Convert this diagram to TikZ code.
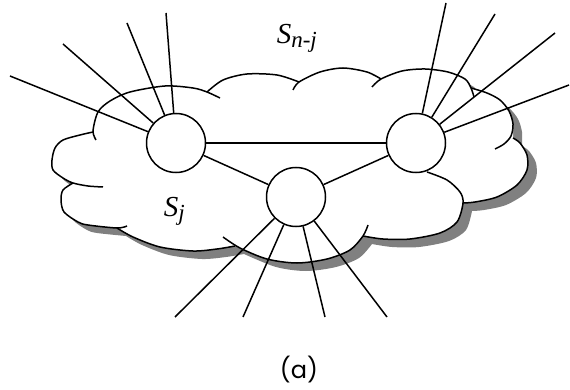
\documentclass[tikz,border=0pt]{standalone}
\usepackage{fontspec}
\setmainfont{Liberation Serif}
\newfontfamily\capfont{Poppins}
\newcommand{\idx}[1]{\raisebox{-4pt}{\fontsize{23}{23}\selectfont #1}}

\begin{document}
\begin{tikzpicture}[
    x=1pt, y=-1pt,
    line width=1.5pt,
    hub/.style={circle, draw, fill=white, minimum size=59pt, inner sep=0pt},
    setname/.style={font=\fontsize{29}{29}\selectfont\itshape, inner sep=0pt, anchor=base west},
    caption/.style={font=\capfont\fontsize{24}{24}\selectfont, inner sep=0pt}
]
    \useasboundingbox (0,0) rectangle (570,390);

    % cloud body: grey shadow first, then the white cloud on top
    \foreach \col/\dx/\dy in {gray/9/8, white/0/0}
      \fill[\col, shift={(\dx,\dy)}]
        plot[smooth] coordinates {(93,132) (98,112) (110,101) (130,92) (165,86) (193,88) (207,92)}
        -- plot[smooth] coordinates {(207,92) (223,80) (247,74) (277,75) (299,82)}
        -- plot[smooth] coordinates {(299,82) (320,72) (343,68) (367,72) (381,79)}
        -- plot[smooth] coordinates {(381,79) (402,71) (425,69) (448,72) (465,79) (471,88)}
        -- plot[smooth] coordinates {(471,88) (487,93) (500,100) (509,111) (513,124) (513,138)}
        -- plot[smooth] coordinates {(513,138) (520,143) (527,155) (527,170) (517,185) (497,197) (475,202) (463,203)}
        -- plot[smooth] coordinates {(463,203) (457,222) (440,233) (410,239) (383,239) (363,236)}
        -- plot[smooth] coordinates {(363,236) (350,250) (327,259) (297,263) (267,259) (235,246)}
        -- plot[smooth] coordinates {(235,246) (217,249) (193,251) (160,247) (133,237) (117,228)}
        -- plot[smooth] coordinates {(117,228) (88,225) (78,222) (64,212) (61,200) (63,190) (73,183)}
        -- plot[smooth] coordinates {(73,183) (63,178) (53,170) (52,160) (55,148) (63,140) (80,135) (93,132)}
        -- cycle;

    % cloud outline, one bump at a time (ends run on a little inside)
    \draw plot[smooth] coordinates {(96,140) (93,131) (98,112) (110,101) (130,92) (165,86) (193,88) (207,92) (220,98)};
    \draw plot[smooth] coordinates {(207,92) (223,80) (247,74) (277,75) (299,82)};
    \draw plot[smooth] coordinates {(293,90) (299,82) (320,72) (343,68) (367,72) (381,79)};
    \draw plot[smooth] coordinates {(372,87) (381,79) (402,71) (425,69) (448,72) (465,79) (471,88) (474,97)};
    \draw plot[smooth] coordinates {(471,88) (487,93) (500,100) (509,111) (513,124) (511,136) (504,144) (495,149)};
    \draw plot[smooth] coordinates {(513,138) (520,143) (527,155) (527,170) (517,185) (497,197) (475,202) (463,203)};
    \draw plot[smooth] coordinates {(427,172) (447,180) (460,192) (463,203) (457,222) (440,233) (410,239) (383,239) (363,236)};
    \draw plot[smooth] coordinates {(368,225) (363,236) (350,250) (327,259) (297,263) (267,259) (240,248) (223,237)};
    \draw plot[smooth] coordinates {(235,246) (217,249) (193,251) (160,247) (133,237) (117,228)};
    \draw plot[smooth] coordinates {(127,226) (117,228) (88,225) (78,222) (64,212) (61,200) (63,190) (73,183)};
    \draw plot[smooth] coordinates {(103,187) (88,186) (73,183) (63,178) (53,170) (52,160) (55,148) (63,140) (80,135) (93,132)};

    % the three hubs
    \node[hub] (hubA) at (176,143) {};
    \node[hub] (hubB) at (416,143) {};
    \node[hub] (hubC) at (296,197) {};

    \draw (hubA) -- (hubB);
    \draw (hubA) -- (hubC);
    \draw (hubB) -- (hubC);

    % outgoing lines of each hub
    \foreach \x/\y [count=\i] in {10/76, 63/44, 127/23, 166/13}
      { \coordinate (a\i) at (\x,\y); \draw (hubA) -- (a\i); }
    \foreach \x/\y [count=\i] in {446/3, 495/14, 555/33, 569/85}
      { \coordinate (b\i) at (\x,\y); \draw (hubB) -- (b\i); }
    \foreach \x/\y [count=\i] in {175/317, 243/317, 325/317, 387/317}
      { \coordinate (c\i) at (\x,\y); \draw (hubC) -- (c\i); }

    % labels
    \node[setname] (snj) at (276,44) {S\idx{n-j}};
    \node[setname] (sj) at (163,217) {S\idx{j}};
    \node[caption] (cap) at (299,370) {(a)};
\end{tikzpicture}
\end{document}
